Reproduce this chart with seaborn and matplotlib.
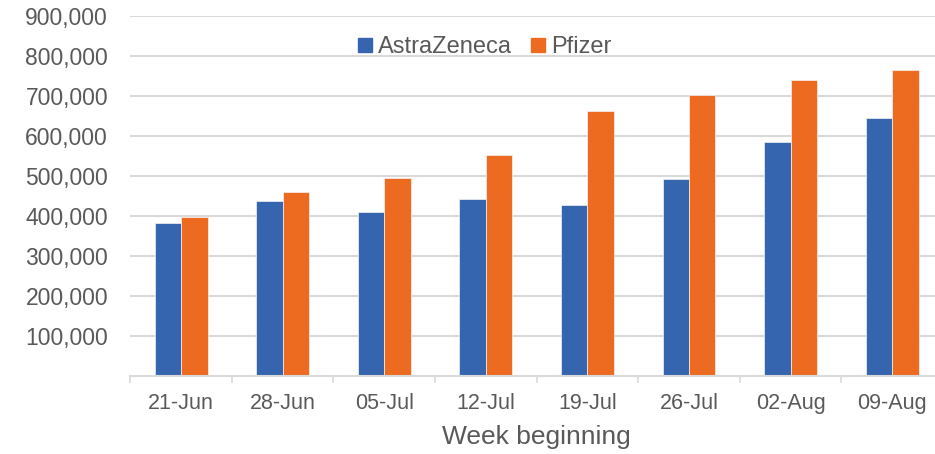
import matplotlib
matplotlib.use("Agg")
import matplotlib.pyplot as plt
import matplotlib.ticker as mticker
from matplotlib.lines import Line2D
import seaborn as sns
import pandas as pd
import numpy as np

weeks = ["21-Jun", "28-Jun", "05-Jul", "12-Jul", "19-Jul", "26-Jul", "02-Aug", "09-Aug"]
astrazeneca = [382500, 437500, 409000, 441700, 426700, 492500, 585000, 644200]
pfizer = [397500, 459000, 495000, 551700, 662500, 703300, 740000, 765800]
series_names = ["AstraZeneca", "Pfizer"]
colors = ["#3565AE", "#ED6B21"]
y_ticks = [100000, 200000, 300000, 400000, 500000, 600000, 700000, 800000, 900000]
x_label = "Week beginning"

sns.set_theme(style="white")
plt.rcParams["font.family"] = ["Liberation Sans", "DejaVu Sans"]

df = pd.DataFrame({
    "week": weeks * 2,
    "value": astrazeneca + pfizer,
    "vaccine": [series_names[0]] * len(weeks) + [series_names[1]] * len(weeks),
})

W, H = 935, 454
fig = plt.figure(figsize=(W / 100, H / 100), dpi=100)
left, right, top, bottom = 130.3, 943.0, 16.0, 376.0
ax = fig.add_axes([left / W, 1 - bottom / H, (right - left) / W, (bottom - top) / H])

sns.barplot(data=df, x="week", y="value", hue="vaccine", order=weeks,
            hue_order=series_names, palette=colors, width=0.52, saturation=1,
            edgecolor="#F4F4F4", linewidth=0.5, ax=ax, legend=False)

text_color = "#595959"
grid_color = "#D9D9D9"

ax.set_xlim(-0.5, len(weeks) - 0.5)
ax.set_ylim(0, 900000)
ax.set_yticks(y_ticks)
ax.yaxis.set_major_formatter(mticker.FuncFormatter(lambda v, p: f"{int(v):,}"))
ax.yaxis.grid(True, color=grid_color, linewidth=1.5)
ax.set_axisbelow(True)
ax.tick_params(axis="y", length=0, pad=16, labelsize=16.5, labelcolor=text_color)

ax.set_xticks(range(len(weeks)))
ax.set_xticklabels(weeks)
ax.set_xticks(np.arange(-0.5, len(weeks), 1.0), minor=True)
ax.tick_params(axis="x", which="major", length=0, pad=12, labelsize=15.5, labelcolor=text_color)
ax.tick_params(axis="x", which="minor", length=5, width=1.2, color=grid_color, direction="out", bottom=True)

for s in ["top", "right", "left"]:
    ax.spines[s].set_visible(False)
ax.spines["bottom"].set_color(grid_color)
ax.spines["bottom"].set_linewidth(1.5)

ax.set_ylabel("")
ax.set_xlabel(x_label, fontsize=19, color=text_color, labelpad=8)

handles = [Line2D([], [], marker="s", linestyle="", markersize=9.5,
                  markerfacecolor=c, markeredgecolor=c) for c in colors]
fig.legend(handles, series_names, loc="center left",
           bbox_to_anchor=(358 / W, 1 - 47 / H), bbox_transform=fig.transFigure,
           ncol=2, frameon=False, fontsize=17, labelcolor=text_color,
           handlelength=0.6, handletextpad=0.25, columnspacing=0.8, borderpad=0,
           borderaxespad=0)

fig.savefig("out.png", dpi=100)
